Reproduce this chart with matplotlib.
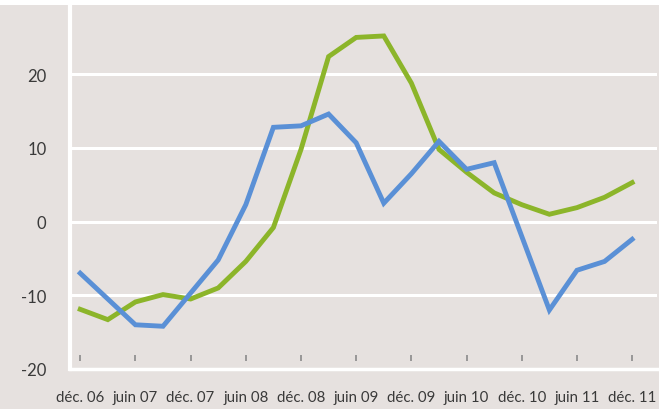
import matplotlib.pyplot as plt
from matplotlib.patches import Rectangle

# quarterly points, déc. 06 .. déc. 11
quarters = list(range(21))
tick_labels = ['déc. 06', 'juin 07', 'déc. 07', 'juin 08', 'déc. 08', 'juin 09',
               'déc. 09', 'juin 10', 'déc. 10', 'juin 11', 'déc. 11']

blue = [-7.0, -10.5, -14.0, -14.2, -9.7, -5.2, 2.3, 12.8, 13.0, 14.6, 10.7,
        2.5, 6.5, 10.9, 7.1, 8.0, -2.0, -12.0, -6.6, -5.4, -2.4]
green = [-11.9, -13.3, -10.9, -9.9, -10.5, -9.0, -5.4, -0.8, 9.8, 22.4, 25.0,
         25.2, 18.8, 9.8, 6.7, 3.9, 2.3, 1.0, 1.9, 3.3, 5.3]

bg = '#e6e1df'
text_col = '#3a3a3a'

plt.rcParams['font.family'] = ['Lato', 'DejaVu Sans']
plt.rcParams['axes.unicode_minus'] = False

fig = plt.figure(figsize=(6.59, 4.10), dpi=100, facecolor='white')
fig.patches.append(Rectangle((0, 0), 1, 1 - 6 / 410, transform=fig.transFigure,
                             facecolor=bg, edgecolor='none', zorder=-1))
ax = fig.add_axes([70 / 659, 1 - 370 / 410, 587 / 659, 364 / 410])
ax.set_facecolor(bg)

ax.plot(quarters, green, color='#8cb52a', lw=3.5, solid_joinstyle='miter', zorder=3)
ax.plot(quarters, blue, color='#5a90d6', lw=3.5, solid_joinstyle='miter', zorder=4)

ax.set_xlim(-0.37, 20.9)
ax.set_ylim(-20, 29.4)

ax.set_yticks([-20, -10, 0, 10, 20])
ax.set_xticks(quarters[::2])
ax.set_xticklabels(tick_labels)
for y in [-10, 0, 10, 20]:
    ax.axhline(y, color='white', lw=2.2, zorder=1)

for side in ['top', 'right']:
    ax.spines[side].set_visible(False)
ax.spines['left'].set_color('white')
ax.spines['left'].set_linewidth(3)
ax.spines['bottom'].set_color('white')
ax.spines['bottom'].set_linewidth(2.5)

ax.tick_params(axis='both', length=0, labelcolor=text_col)
ax.tick_params(axis='y', pad=17, labelsize=12)
ax.tick_params(axis='x', pad=15, labelsize=10.8)

# small tick marks sitting just above the baseline
ax.scatter(quarters[::2], [0.03] * len(tick_labels), marker='|', s=20,
           color='#8a8a8a', linewidths=1.2, transform=ax.get_xaxis_transform(), zorder=2)

fig.savefig('out.png', dpi=100, facecolor=fig.get_facecolor())
